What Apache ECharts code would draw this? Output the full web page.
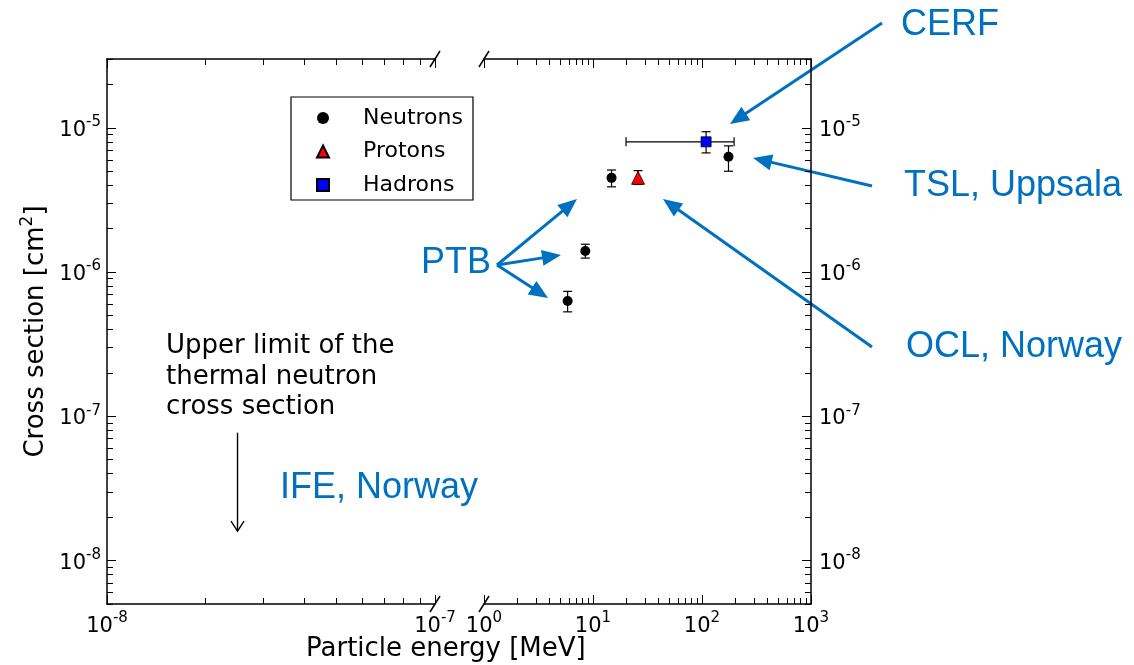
<!DOCTYPE html>
<html lang="en">
<head>
<meta charset="UTF-8">
<title>Cross section vs particle energy</title>
<style>
  html, body { margin: 0; padding: 0; background: #fff; }
  #chart { width: 1134px; height: 665px; }
</style>
</head>
<body>
<div id="chart"></div>
<script src="https://cdn.jsdelivr.net/npm/echarts@6/dist/echarts.min.js"></script>
<script>
// ---- data ----
// neutrons (PTB x3, TSL Uppsala)
var neutronE  = [5.85, 8.5, 14.8, 175];
var neutronXS = [6.3e-7, 1.4e-6, 4.5e-6, 6.3e-6];
var neutronLo = [5.3e-7, 1.25e-6, 3.9e-6, 5.0e-6];
var neutronHi = [7.35e-7, 1.56e-6, 5.1e-6, 7.5e-6];
// protons (OCL Norway)
var protonE  = [25.9];
var protonXS = [4.5e-6];
var protonLo = [4.05e-6];
var protonHi = [5.05e-6];
// hadrons (CERF)
var hadronE   = [109];
var hadronXS  = [8.0e-6];
var hadronLo  = [6.7e-6];
var hadronHi  = [9.4e-6];
var hadronELo = [20.1];
var hadronEHi = [197];
// thermal neutron upper limit (IFE Norway)
var thermalE    = [2.5e-8];
var thermalFrom = [7.7e-8];
var thermalTo   = [1.6e-8];

// axis ranges and tick labels
var yMin = 5e-9, yMax = 3e-5;
var yMajor = [1e-8, 1e-7, 1e-6, 1e-5];
var xLowMin = 1e-8, xLowMax = 1e-7;
var xLowMajor = [1e-8, 1e-7];
var xHighMin = 1, xHighMax = 1000;
var xHighMajor = [1, 10, 100, 1000];

var FONT = 'DejaVu Sans';
var BLUE = '#0070C0';

function minorBetween(lo, hi) {
  var out = [];
  for (var d = Math.floor(Math.log10(lo)); d < Math.ceil(Math.log10(hi)); d++) {
    for (var m = 2; m <= 9; m++) {
      var v = +(m * Math.pow(10, d)).toPrecision(6);
      if (v >= lo && v <= hi) out.push(v);
    }
  }
  return out;
}

function powLabel(v) {
  var e = Math.round(Math.log10(v));
  return '{b|10}{s|' + e + '}';
}

var labelRich = {
  b: { fontFamily: FONT, fontSize: 21, color: '#000', verticalAlign: 'bottom', lineHeight: 26 },
  s: { fontFamily: FONT, fontSize: 15, color: '#000', verticalAlign: 'top', lineHeight: 15 }
};

function axis(grid, pos, min, max, ticks, len, line, labels, margin) {
  return {
    type: 'log', logBase: 10, gridIndex: grid, position: pos, min: min, max: max,
    axisLine: { show: line, onZero: false, lineStyle: { color: '#000', width: 1.5 } },
    axisTick: { show: true, inside: true, length: len, customValues: ticks,
                lineStyle: { color: '#000', width: 1 } },
    axisLabel: labels ? { show: true, customValues: ticks, formatter: powLabel,
                          margin: margin, fontSize: 21, fontFamily: FONT, color: '#000',
                          rich: labelRich } : { show: false },
    splitLine: { show: false },
    minorTick: { show: false },
    minorSplitLine: { show: false }
  };
}

var zip = function (a, b) { return a.map(function (v, i) { return [v, b[i]]; }); };

var xAxes = [
  axis(0, 'bottom', xLowMin, xLowMax, xLowMajor, 9, true, true, 7),
  axis(0, 'bottom', xLowMin, xLowMax, minorBetween(xLowMin, xLowMax), 6, false, false),
  axis(0, 'top', xLowMin, xLowMax, xLowMajor, 9, true, false),
  axis(0, 'top', xLowMin, xLowMax, minorBetween(xLowMin, xLowMax), 6, false, false),
  axis(1, 'bottom', xHighMin, xHighMax, xHighMajor, 9, true, true, 7),
  axis(1, 'bottom', xHighMin, xHighMax, minorBetween(xHighMin, xHighMax), 6, false, false),
  axis(1, 'top', xHighMin, xHighMax, xHighMajor, 9, true, false),
  axis(1, 'top', xHighMin, xHighMax, minorBetween(xHighMin, xHighMax), 6, false, false)
];
var yAxes = [
  axis(0, 'left', yMin, yMax, yMajor, 9, true, true, 6),
  axis(0, 'left', yMin, yMax, minorBetween(yMin, yMax), 6, false, false),
  axis(1, 'right', yMin, yMax, yMajor, 9, true, true, 8),
  axis(1, 'right', yMin, yMax, minorBetween(yMin, yMax), 6, false, false)
];
yAxes[0].name = '{n|Cross section [cm}{s|2}{n|]}';
yAxes[0].nameLocation = 'middle';
yAxes[0].nameRotate = 90;
yAxes[0].nameGap = 58;
yAxes[0].nameTextStyle = {
  fontSize: 26, fontFamily: FONT,
  rich: {
    n: { fontFamily: FONT, fontSize: 26, color: '#000', verticalAlign: 'bottom', lineHeight: 30 },
    s: { fontFamily: FONT, fontSize: 17, color: '#000', verticalAlign: 'top', lineHeight: 17 }
  }
};

// error bars: [x, low, high]
function errY(params, api) {
  var x = api.value(0);
  var a = api.coord([x, api.value(1)]), b = api.coord([x, api.value(2)]);
  var c = 4.5, st = { stroke: '#000', lineWidth: 1.2 };
  return { type: 'group', children: [
    { type: 'line', shape: { x1: a[0], y1: a[1], x2: b[0], y2: b[1] }, style: st },
    { type: 'line', shape: { x1: a[0] - c, y1: a[1], x2: a[0] + c, y2: a[1] }, style: st },
    { type: 'line', shape: { x1: b[0] - c, y1: b[1], x2: b[0] + c, y2: b[1] }, style: st }
  ] };
}
// horizontal error bars: [low, high, y]
function errX(params, api) {
  var y = api.value(2);
  var a = api.coord([api.value(0), y]), b = api.coord([api.value(1), y]);
  var c = 4.5, st = { stroke: '#000', lineWidth: 1.2 };
  return { type: 'group', children: [
    { type: 'line', shape: { x1: a[0], y1: a[1], x2: b[0], y2: b[1] }, style: st },
    { type: 'line', shape: { x1: a[0], y1: a[1] - c, x2: a[0], y2: a[1] + c }, style: st },
    { type: 'line', shape: { x1: b[0], y1: b[1] - c, x2: b[0], y2: b[1] + c }, style: st }
  ] };
}
// upper limit arrow: [x, from, to]
function limitArrow(params, api) {
  var x = api.value(0);
  var a = api.coord([x, api.value(1)]), b = api.coord([x, api.value(2)]);
  var st = { stroke: '#000', lineWidth: 1.4, fill: null };
  return { type: 'group', children: [
    { type: 'line', shape: { x1: a[0], y1: a[1], x2: b[0], y2: b[1] }, style: st },
    { type: 'polyline', shape: { points: [[b[0] - 6.5, b[1] - 10], [b[0], b[1]], [b[0] + 6.5, b[1] - 10]] }, style: st }
  ] };
}

function arrow(x1, y1, x2, y2) {
  var ang = Math.atan2(y2 - y1, x2 - x1), L = 19, W = 8;
  var bx = x2 - L * Math.cos(ang), by = y2 - L * Math.sin(ang);
  var sx = W * Math.sin(ang), sy = W * Math.cos(ang);
  return [
    { type: 'line', silent: true, shape: { x1: x1, y1: y1, x2: bx + 2 * Math.cos(ang), y2: by + 2 * Math.sin(ang) },
      style: { stroke: BLUE, lineWidth: 3 } },
    { type: 'polygon', silent: true, shape: { points: [[x2, y2], [bx + sx, by - sy], [bx - sx, by + sy]] },
      style: { fill: BLUE } }
  ];
}
function note(text, x, y) {
  return { type: 'text', silent: true, x: x, y: y,
           style: { text: text, fill: BLUE, fontSize: 36, fontFamily: 'Liberation Sans', verticalAlign: 'middle' } };
}
function brk(x, y) {
  return { type: 'line', silent: true, shape: { x1: x - 5, y1: y + 8, x2: x + 5, y2: y - 8 },
           style: { stroke: '#000', lineWidth: 1.5 } };
}

var gfx = [].concat(
  arrow(882, 23, 730, 124),
  arrow(872, 186, 753, 158),
  arrow(872, 347, 663, 199),
  arrow(497, 265, 577, 199),
  arrow(497, 265, 561, 255),
  arrow(497, 265, 548, 298),
  [
    note('CERF', 901, 25),
    note('TSL, Uppsala', 904, 186),
    note('OCL, Norway', 906, 347),
    note('PTB', 421, 263.5),
    note('IFE, Norway', 280, 488),
    brk(435, 59), brk(484, 59), brk(435, 604), brk(484, 604),
    { type: 'text', silent: true, x: 166, y: 331,
      style: { text: 'Upper limit of the\nthermal neutron\ncross section', fill: '#000',
               fontSize: 26, fontFamily: FONT, lineHeight: 30.5, verticalAlign: 'top' } },
    { type: 'text', silent: true, x: 306, y: 649,
      style: { text: 'Particle energy [MeV]', fill: '#000', fontSize: 26, fontFamily: FONT,
               verticalAlign: 'middle' } }
  ]
);

var chart = echarts.init(document.getElementById('chart'));
chart.setOption({
  animation: false,
  backgroundColor: '#fff',
  grid: [
    { left: 107, top: 59, width: 328, height: 545, containLabel: false, outerBoundsMode: 'none' },
    { left: 484, top: 59, width: 327, height: 545, containLabel: false, outerBoundsMode: 'none' }
  ],
  xAxis: xAxes,
  yAxis: yAxes,
  legend: {
    orient: 'vertical', left: 291, top: 97,
    padding: [10, 10, 4, 25],
    itemGap: 11.5, itemWidth: 12, itemHeight: 12,
    borderColor: '#000', borderWidth: 1.2, borderRadius: 0,
    textStyle: { fontFamily: FONT, fontSize: 22, color: '#000', lineHeight: 22, padding: [0, 0, 0, 29] },
    data: [
      { name: 'Neutrons', icon: 'circle' },
      { name: 'Protons', icon: 'triangle' },
      { name: 'Hadrons', icon: 'rect' }
    ]
  },
  graphic: { elements: gfx },
  series: [
    { type: 'custom', name: 'nErr', xAxisIndex: 4, yAxisIndex: 2, renderItem: errY, z: 2,
      encode: { x: 0, y: [1, 2] },
      data: neutronE.map(function (e, i) { return [e, neutronLo[i], neutronHi[i]]; }) },
    { type: 'custom', name: 'pErr', xAxisIndex: 4, yAxisIndex: 2, renderItem: errY, z: 2,
      encode: { x: 0, y: [1, 2] },
      data: protonE.map(function (e, i) { return [e, protonLo[i], protonHi[i]]; }) },
    { type: 'custom', name: 'hErr', xAxisIndex: 4, yAxisIndex: 2, renderItem: errY, z: 2,
      encode: { x: 0, y: [1, 2] },
      data: hadronE.map(function (e, i) { return [e, hadronLo[i], hadronHi[i]]; }) },
    { type: 'custom', name: 'hErrX', xAxisIndex: 4, yAxisIndex: 2, renderItem: errX, z: 2,
      encode: { x: [0, 1], y: 2 },
      data: hadronE.map(function (e, i) { return [hadronELo[i], hadronEHi[i], hadronXS[i]]; }) },
    { type: 'custom', name: 'limit', xAxisIndex: 0, yAxisIndex: 0, renderItem: limitArrow, z: 2,
      encode: { x: 0, y: [1, 2] },
      data: thermalE.map(function (e, i) { return [e, thermalFrom[i], thermalTo[i]]; }) },
    { type: 'scatter', name: 'Neutrons', xAxisIndex: 4, yAxisIndex: 2, z: 5,
      symbol: 'circle', symbolSize: 10,
      itemStyle: { color: '#000', opacity: 1 },
      data: zip(neutronE, neutronXS) },
    { type: 'scatter', name: 'Protons', xAxisIndex: 4, yAxisIndex: 2, z: 5,
      symbol: 'triangle', symbolSize: [13, 13],
      itemStyle: { color: '#ff0000', borderColor: '#000', borderWidth: 0.8, opacity: 1 },
      data: zip(protonE, protonXS) },
    { type: 'scatter', name: 'Hadrons', xAxisIndex: 4, yAxisIndex: 2, z: 5,
      symbol: 'rect', symbolSize: 10,
      itemStyle: { color: '#0000ff', borderColor: '#000', borderWidth: 0.8, opacity: 1 },
      data: zip(hadronE, hadronXS) }
  ]
});
</script>
</body>
</html>
